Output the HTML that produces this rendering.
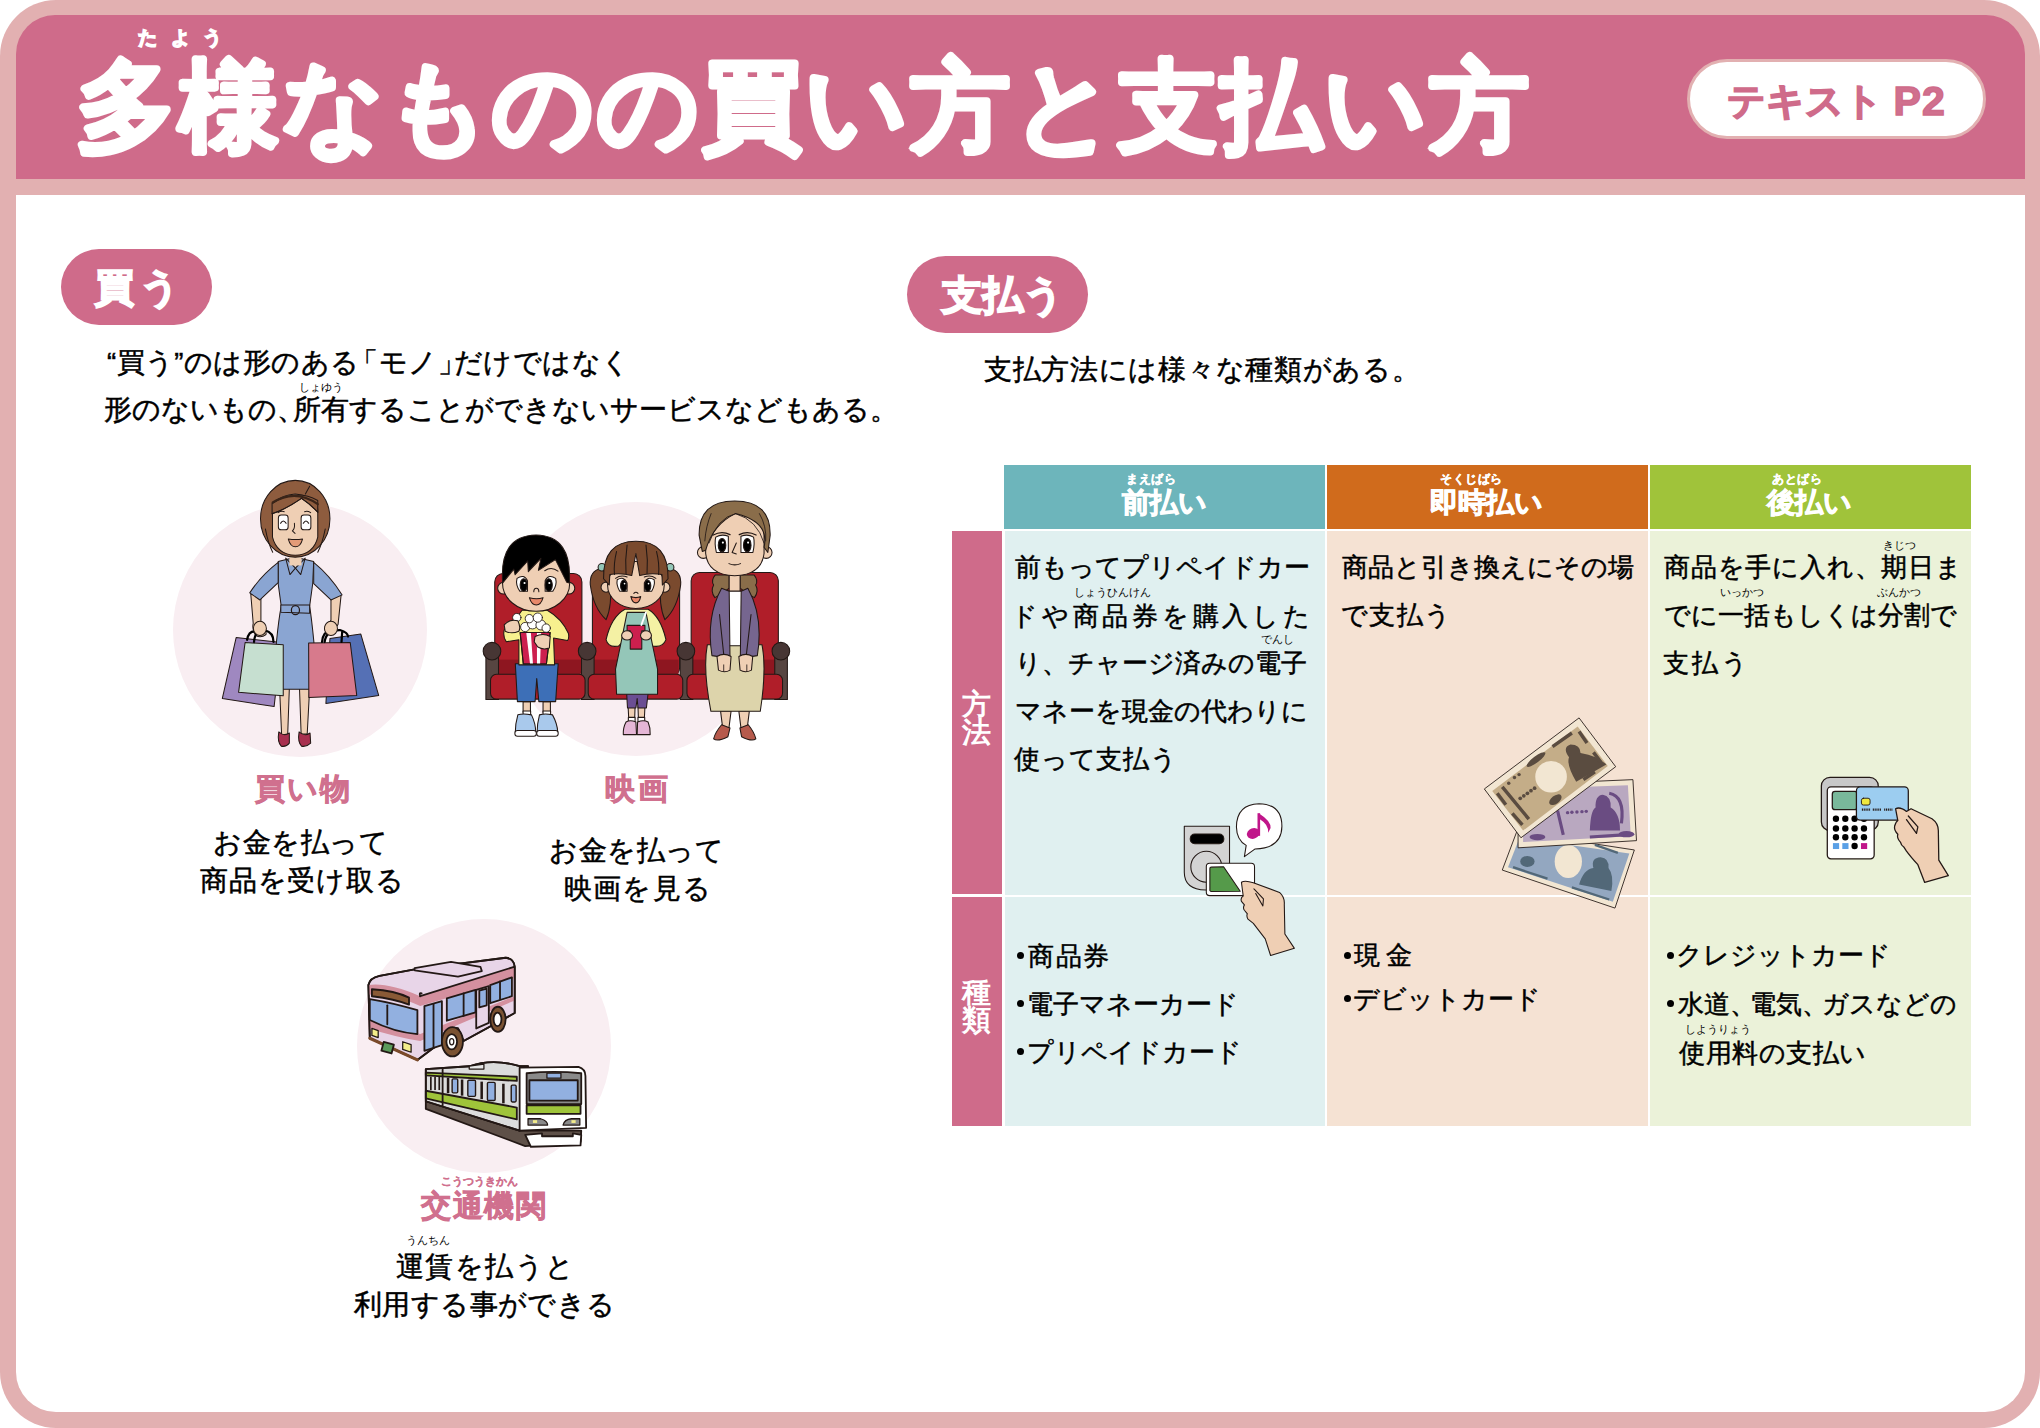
<!DOCTYPE html>
<html lang="ja">
<head>
<meta charset="utf-8">
<style>
html,body{margin:0;padding:0;}
body{width:2040px;height:1428px;position:relative;overflow:hidden;background:#fff;font-family:"Liberation Sans",sans-serif;color:#1a1a1a;}
.a{position:absolute;white-space:nowrap;line-height:1;}
.j{position:absolute;white-space:nowrap;line-height:1;text-align:justify;text-align-last:justify;}
#frame{position:absolute;left:0;top:0;width:2040px;height:1428px;background:#e2b0b1;border-radius:56px;}
#head{position:absolute;left:16px;top:15px;width:2009px;height:164px;background:#cf6b8a;border-radius:39px 39px 0 0;}
#content{position:absolute;left:16px;top:195px;width:2009px;height:1217px;background:#fff;border-radius:0 0 40px 40px;}
.title{color:#fff;font-weight:bold;-webkit-text-stroke:5px #fff;}
.pill{position:absolute;background:#cf6b8a;border-radius:40px;}
.w{color:#fff;font-weight:bold;}
.pk{color:#d0708e;font-weight:bold;-webkit-text-stroke:0.8px #d0708e;}
.cell{position:absolute;}
.ruby{font-size:11px;color:#000;}
.t{font-size:26px;color:#000;-webkit-text-stroke:0.5px #000;}
.tx{font-size:27.5px;color:#000;-webkit-text-stroke:0.5px #000;}
.tx2{font-size:28px;color:#000;-webkit-text-stroke:0.5px #000;}
.pl{margin-left:-12px;}
.pr{margin-right:-12px;}
.bu{position:absolute;width:7px;height:7px;border-radius:50%;background:#000;}
.circ{position:absolute;border-radius:50%;background:#f9eef2;}
</style>
</head>
<body>
<div id="frame"></div>
<div id="head"></div>
<div id="content"></div>

<!-- title -->
<svg style="position:absolute;left:0;top:0;" width="1600" height="190"><text x="76" y="141" font-size="100" font-weight="bold" letter-spacing="3" fill="#fff" stroke="#fff" stroke-width="5" stroke-linejoin="round" font-family="Liberation Sans, sans-serif">多様なものの買い方と支払い方</text></svg>
<div class="a w" style="left:138px;top:28px;font-size:19px;letter-spacing:13.5px;-webkit-text-stroke:1.5px #fff;">たよう</div>

<!-- text pill -->
<div style="position:absolute;left:1687px;top:59px;width:293px;height:74px;background:#fff;border:3px solid #e2b0b1;border-radius:40px;"></div>
<div class="a pk" style="left:1727px;top:81px;font-size:38px;-webkit-text-stroke:1.5px #cf6b8a;">テキスト <span style="font-size:41px;letter-spacing:1px;vertical-align:-1px;">P2</span></div>

<!-- buy section -->
<div class="pill" style="left:61px;top:249px;width:151px;height:76px;"></div>
<div class="a w" style="left:95px;top:268px;font-size:39px;letter-spacing:6px;-webkit-text-stroke:2px #fff;">買う</div>
<div class="a tx" style="left:107px;top:349px;letter-spacing:0.4px;">“買う”のは形のある<span class="pl" style="margin-left:-9px">「</span>モノ<span class="pr">」</span>だけではなく</div>
<div class="a tx" style="left:104px;top:396px;">形のないもの<span class="pr">、</span>所有することができないサービスなどもある。</div>
<div class="a ruby" style="left:299px;top:382px;">しょゆう</div>

<div class="circ" style="left:173px;top:503px;width:254px;height:254px;"></div>
<div class="circ" style="left:509px;top:502px;width:254px;height:254px;"></div>
<div class="circ" style="left:357px;top:919px;width:254px;height:254px;"></div>

<svg style="position:absolute;left:200px;top:470px;" width="200" height="290" viewBox="0 0 985 1428">
<g stroke="#231815" stroke-width="5" stroke-linejoin="round" stroke-linecap="round">
<!-- legs -->
<path d="M392,1075 L440,1075 L432,1300 L402,1305 Z" fill="#efcfb4"/>
<path d="M490,1075 L540,1075 L528,1300 L498,1300 Z" fill="#efcfb4"/>
<path d="M388,1290 Q380,1340 400,1360 Q425,1365 440,1345 L440,1295 Q415,1315 388,1290 Z" fill="#a8304f"/>
<path d="M488,1290 Q480,1340 500,1360 Q525,1365 545,1345 L542,1295 Q515,1315 488,1290 Z" fill="#a8304f"/>
<!-- bags back -->
<path d="M178,825 L400,850 L365,1165 L110,1125 Z" fill="#9f88c0"/>
<path d="M640,830 L792,808 L880,1110 L620,1150 Z" fill="#5570b5"/>
<!-- arms skin -->
<path d="M250,610 L300,630 L300,760 Q330,790 325,810 Q300,830 275,815 Q255,790 262,755 Z" fill="#efcfb4"/>
<path d="M645,615 L695,615 L680,760 Q660,800 640,810 Q610,800 615,770 Q640,750 645,740 Z" fill="#efcfb4"/>
<!-- dress -->
<path d="M385,450 L470,430 L560,450 L555,560 L540,670 Q560,800 580,1080 L360,1080 Q375,800 400,670 L385,560 Z" fill="#8aa5d2"/>
<path d="M385,455 Q300,520 245,605 L295,640 L385,555 Z" fill="#8aa5d2"/>
<path d="M560,455 Q640,520 700,615 L645,640 L560,560 Z" fill="#8aa5d2"/>
<path d="M398,665 L540,665 L540,705 L398,700 Z" fill="#8aa5d2"/>
<ellipse cx="470" cy="690" rx="20" ry="22" fill="none" stroke-width="6"/>
<path d="M440,430 L500,430 L470,480 Z" fill="#efcfb4" stroke="none"/><path d="M422,434 L443,515 L470,483 Z" fill="#8aa5d2"/><path d="M518,434 L496,515 L470,483 Z" fill="#8aa5d2"/>
<!-- bags front -->
<path d="M222,850 L410,860 L410,1112 L190,1095 Z" fill="#c6dfd0"/>
<path d="M535,852 L740,850 L772,1110 L536,1120 Z" fill="#d77a8c"/>
<path d="M232,836 Q240,790 275,795 M266,847 Q270,785 320,790 Q362,800 362,847" fill="none" stroke-width="11" stroke="#000"/>
<path d="M601,847 Q605,795 640,793 M614,847 Q620,787 689,788 Q729,800 729,820 M697,847 L700,800" fill="none" stroke-width="11" stroke="#000"/>
<!-- hands -->
<ellipse cx="295" cy="780" rx="32" ry="35" fill="#efcfb4"/>
<ellipse cx="645" cy="780" rx="32" ry="35" fill="#efcfb4"/>
<!-- neck -->
<path d="M440,400 L500,400 L500,470 L440,470 Z" fill="#efcfb4" stroke="none"/>
<!-- hair back -->
<ellipse cx="469" cy="240" rx="171" ry="189" fill="#8e5c3e"/>
<path d="M357,200 Q357,130 469,118 Q580,130 580,200 L580,330 Q560,415 469,420 Q378,415 357,330 Z" fill="#efcfb4"/>
<path d="M355,215 Q420,195 500,140 Q545,170 580,208 L580,150 Q470,90 355,165 Z" fill="#8e5c3e"/>
<path d="M500,140 Q545,170 580,208" fill="none"/>
<path d="M355,215 Q420,195 500,140" fill="none"/>
<path d="M358,160 Q469,90 580,168" fill="none" stroke="#3a2418" stroke-width="11"/>
<path d="M540,80 L519,118" fill="none"/>
<path d="M322,290 Q335,360 358,405 M617,290 Q603,360 580,405" fill="none"/>
<rect x="386" y="222" width="48" height="72" rx="14" fill="#fff"/>
<rect x="498" y="222" width="48" height="72" rx="14" fill="#fff"/>
<path d="M397,262 Q410,240 424,262 M509,262 Q522,240 535,262" fill="none" stroke-width="6"/>
<path d="M385,210 Q400,200 415,205 M515,205 Q530,200 545,210" fill="none"/>
<path d="M435,340 Q470,345 505,340 Q495,378 470,378 Q445,378 435,340 Z" fill="#e39b78"/>
<path d="M465,262 Q468,290 455,300 L468,312" fill="none"/>
</g>
</svg>

<div class="a pk" style="left:255px;top:774px;font-size:30px;letter-spacing:2px;">買い物</div>
<div class="a tx2" style="left:213px;top:829px;font-size:28px;letter-spacing:0.6px;">お金を払って</div>
<div class="a tx2" style="left:200px;top:867px;font-size:28px;letter-spacing:0.8px;">商品を受け取る</div>

<svg style="position:absolute;left:480px;top:480px;" width="320" height="300" viewBox="0 0 1523 1428">
<g stroke="#231815" stroke-width="5" stroke-linejoin="round" stroke-linecap="round">
<!-- seat backs -->
<rect x="70" y="445" width="415" height="490" rx="40" fill="#b01e29"/>
<rect x="535" y="445" width="415" height="490" rx="40" fill="#b01e29"/>
<rect x="1005" y="440" width="415" height="495" rx="40" fill="#b01e29"/>
<rect x="75" y="855" width="405" height="75" fill="#8e1620" stroke="none"/>
<rect x="540" y="855" width="405" height="75" fill="#8e1620" stroke="none"/>
<rect x="1010" y="855" width="405" height="75" fill="#8e1620" stroke="none"/>
<!-- armrest posts -->
<rect x="28" y="800" width="60" height="245" fill="#574541"/>
<rect x="483" y="800" width="60" height="245" fill="#574541"/>
<rect x="953" y="800" width="60" height="245" fill="#574541"/>
<rect x="1403" y="800" width="60" height="245" fill="#574541"/>
<!-- cushions -->
<rect x="50" y="925" width="450" height="118" rx="28" fill="#b01e29"/>
<rect x="515" y="925" width="450" height="118" rx="28" fill="#b01e29"/>
<rect x="985" y="925" width="455" height="118" rx="28" fill="#b01e29"/>
<circle cx="57" cy="815" r="42" fill="#473634"/>
<circle cx="510" cy="815" r="42" fill="#473634"/>
<circle cx="980" cy="815" r="42" fill="#473634"/>
<circle cx="1432" cy="815" r="42" fill="#473634"/>

<!-- BOY -->
<path d="M205,1055 L240,1055 L240,1105 L205,1105 Z" fill="#efcfb4"/><rect x="205" y="1100" width="36" height="18" fill="#fff"/>
<path d="M300,1055 L335,1055 L335,1105 L300,1105 Z" fill="#efcfb4"/><rect x="300" y="1100" width="36" height="18" fill="#fff"/>
<path d="M180,1118 Q205,1110 245,1118 Q265,1160 265,1200 L168,1200 Q168,1160 180,1118 Z" fill="#a9c9ec"/><rect x="166" y="1192" width="102" height="28" rx="12" fill="#fff"/>
<path d="M283,1118 Q310,1110 345,1118 Q368,1160 370,1200 L272,1200 Q272,1160 283,1118 Z" fill="#a9c9ec"/><rect x="270" y="1192" width="102" height="28" rx="12" fill="#fff"/>
<path d="M168,875 L372,875 L360,1055 L280,1055 L270,945 L262,1055 L178,1055 Z" fill="#3d6fb7"/>
<path d="M200,620 L320,620 Q390,660 421,731 Q425,755 416,764 L350,752 L355,880 L185,880 L185,760 L125,770 Q105,740 118,705 L150,690 Z" fill="#f7f08e"/>
<path d="M191,726 L334,726 L316,876 L206,876 Z" fill="#cc1f4e"/>
<path d="M220,726 L242,726 L252,876 L238,876 Z M271,726 L291,726 L286,876 L271,876 Z" fill="#fff" stroke="none"/>
<path d="M191,726 L334,726 L316,876 L206,876 Z" fill="none"/>
<g fill="#fff" stroke-width="4">
<circle cx="215" cy="700" r="22"/><circle cx="250" cy="685" r="24"/><circle cx="290" cy="690" r="24"/><circle cx="315" cy="705" r="20"/><circle cx="235" cy="660" r="20"/><circle cx="275" cy="655" r="22"/><circle cx="175" cy="655" r="20"/>
</g>
<path d="M115,690 Q140,660 180,670 Q195,700 185,720 Q150,735 120,720 Z" fill="#efcfb4"/>
<path d="M262,745 Q300,725 334,745 L330,800 Q300,810 275,795 L258,770 Z" fill="#efcfb4"/>
<circle cx="112" cy="515" r="28" fill="#efcfb4"/>
<circle cx="423" cy="515" r="28" fill="#efcfb4"/>
<ellipse cx="267" cy="490" rx="160" ry="135" fill="#efcfb4"/>
<path d="M108,490 Q90,265 267,262 Q440,265 425,490 L413,487 L359,379 L278,430 L290,373 L230,436 L227,385 L167,451 L161,424 Z" fill="#000"/>
<path d="M176,468 Q210,445 226,480 L226,530 L190,530 Q168,500 176,468 Z" fill="#fff"/><ellipse cx="208" cy="500" rx="17" ry="30" fill="#000"/><circle cx="212" cy="490" r="5" fill="#fff" stroke="none"/>
<path d="M360,468 Q326,445 310,480 L310,530 L346,530 Q368,500 360,468 Z" fill="#fff"/><ellipse cx="327" cy="500" rx="17" ry="30" fill="#000"/><circle cx="330" cy="490" r="5" fill="#fff" stroke="none"/><path d="M308,432 Q340,410 371,434" fill="none"/><path d="M256,532 Q256,515 268,515 Q280,515 280,532" fill="none"/>
<path d="M235,560 Q270,570 300,560 Q290,595 268,595 Q245,595 235,560 Z" fill="#e8896a"/>

<!-- GIRL -->
<path d="M705,1080 L738,1080 L736,1140 L708,1140 Z" fill="#efcfb4"/><path d="M752,1080 L785,1080 L782,1140 L754,1140 Z" fill="#efcfb4"/>
<path d="M698,1015 L800,1015 L792,1085 L752,1085 L748,1040 L742,1085 L702,1085 Z" fill="#6b4e93"/>
<rect x="706" y="1130" width="32" height="22" fill="#fff"/><rect x="752" y="1130" width="32" height="22" fill="#fff"/>
<path d="M695,1152 Q715,1140 742,1152 L745,1212 L682,1212 Q680,1180 695,1152 Z" fill="#e5b6d6"/>
<path d="M750,1152 Q778,1140 800,1152 Q812,1180 810,1212 L748,1212 Z" fill="#e5b6d6"/>
<path d="M525,500 Q520,430 580,420 L620,480 Q630,600 600,665 Q540,610 525,500 Z" fill="#7a4a2e"/>
<path d="M955,500 Q960,430 900,420 L860,480 Q850,600 880,665 Q940,610 955,500 Z" fill="#7a4a2e"/>
<circle cx="580" cy="415" r="18" fill="#94c6b8"/>
<circle cx="905" cy="415" r="18" fill="#94c6b8"/>
<path d="M690,615 L800,615 Q860,650 885,760 Q870,800 820,790 L800,760 L690,760 L660,790 Q610,800 600,760 Q625,650 690,615 Z" fill="#f4f1a4"/>
<path d="M700,630 L790,630 L820,780 L845,900 L845,1020 L650,1020 L645,900 L670,780 Z" fill="#94c6b8"/>
<path d="M700,692 L785,692 L785,718 L770,718 L770,805 L715,805 L715,718 L700,718 Z" fill="#cc1f4e"/>
<path d="M768,690 L790,630" stroke="#fff" stroke-width="9"/>
<ellipse cx="700" cy="740" rx="26" ry="22" fill="#efcfb4"/>
<ellipse cx="790" cy="740" rx="26" ry="22" fill="#efcfb4"/>
<circle cx="600" cy="510" r="24" fill="#efcfb4"/>
<circle cx="880" cy="510" r="24" fill="#efcfb4"/>
<ellipse cx="742" cy="500" rx="135" ry="112" fill="#efcfb4"/>
<path d="M588,470 Q585,292 742,292 Q898,292 895,470 L868,500 L866,450 Q810,440 760,455 L742,350 L722,455 Q670,440 618,450 L615,500 Z" fill="#7a4a2e"/>
<path d="M650,340 Q635,400 640,450 M700,310 Q690,380 695,445 M790,310 Q800,380 795,445 M840,340 Q855,400 850,450" fill="none"/>
<path d="M653,475 Q685,455 700,490 L700,530 L665,530 Q648,500 653,475 Z" fill="#fff"/><ellipse cx="684" cy="503" rx="15" ry="27" fill="#000"/><circle cx="688" cy="493" r="4" fill="#fff" stroke="none"/><path d="M645,468 Q670,450 700,462" fill="none"/>
<path d="M829,475 Q797,455 782,490 L782,530 L817,530 Q834,500 829,475 Z" fill="#fff"/><ellipse cx="798" cy="503" rx="15" ry="27" fill="#000"/><circle cx="802" cy="493" r="4" fill="#fff" stroke="none"/><path d="M837,468 Q812,450 782,462" fill="none"/><path d="M732,540 Q742,528 752,540" fill="none"/>
<path d="M718,555 Q742,565 765,555 Q758,585 742,585 Q725,585 718,555 Z" fill="#e8896a"/>

<!-- MOM -->
<path d="M1145,1100 L1195,1100 L1185,1180 L1155,1180 Z" fill="#efcfb4"/>
<path d="M1232,1100 L1282,1100 L1272,1180 L1242,1180 Z" fill="#efcfb4"/>
<path d="M1150,1165 Q1120,1200 1112,1232 Q1130,1248 1180,1222 L1190,1180 Z" fill="#b65a4c"/>
<path d="M1237,1180 L1245,1222 Q1295,1248 1313,1232 Q1305,1200 1277,1165 Z" fill="#b65a4c"/>
<path d="M1082,784 L1342,784 Q1365,900 1334,1101 L1099,1101 Q1060,900 1082,784 Z" fill="#ddd4ab"/>
<path d="M1120,452 Q1098,478 1112,500 Q1095,530 1118,560 Q1150,545 1186,515 L1186,452 Z" fill="#8a6d4a"/>
<path d="M1304,452 Q1326,478 1312,500 Q1329,530 1306,560 Q1274,545 1238,515 L1238,452 Z" fill="#8a6d4a"/>
<rect x="1186" y="430" width="52" height="105" fill="#efcfb4"/>
<rect x="1182" y="529" width="67" height="260" fill="#fff"/>
<path d="M1150,515 L1186,530 L1190,848 L1104,836 Q1075,650 1150,515 Z" fill="#76668f"/>
<path d="M1275,515 L1243,530 L1239,848 L1320,836 Q1350,650 1275,515 Z" fill="#76668f"/>
<path d="M1140,640 L1160,830 M1290,640 L1268,830" fill="none"/>
<path d="M1128,840 Q1160,820 1195,840 L1190,905 Q1165,920 1135,905 Z" fill="#efcfb4"/>
<path d="M1232,840 Q1265,820 1298,840 L1292,905 Q1262,920 1238,905 Z" fill="#efcfb4"/>
<path d="M1160,880 L1160,910 M1270,880 L1270,910" fill="none" stroke-width="4"/>
<circle cx="1063" cy="345" r="28" fill="#efcfb4"/>
<circle cx="1362" cy="345" r="28" fill="#efcfb4"/>
<path d="M1074,250 Q1074,150 1212,150 Q1352,150 1352,250 L1352,350 Q1340,452 1212,456 Q1085,452 1074,350 Z" fill="#efcfb4"/>
<path d="M1043,264 Q1040,100 1212,100 Q1385,100 1381,264 L1370,345 L1352,320 Q1380,200 1216,160 Q1110,210 1074,334 L1058,340 Z" fill="#8a6d4a"/>
<path d="M1216,160 Q1130,180 1090,300 M1216,160 Q1320,190 1352,300 M1100,160 Q1075,220 1070,290 M1330,160 Q1365,220 1360,290" fill="none" stroke-width="4"/>
<path d="M1122,272 Q1150,255 1182,268 L1182,345 L1125,345 Q1115,300 1122,272 Z" fill="#fff"/><ellipse cx="1152" cy="310" rx="18" ry="32" fill="#000"/><circle cx="1156" cy="298" r="5" fill="#fff" stroke="none"/>
<path d="M1302,272 Q1274,255 1242,268 L1242,345 L1299,345 Q1309,300 1302,272 Z" fill="#fff"/><ellipse cx="1272" cy="310" rx="18" ry="32" fill="#000"/><circle cx="1276" cy="298" r="5" fill="#fff" stroke="none"/>
<path d="M1110,262 Q1150,240 1190,260 M1234,260 Q1274,240 1314,262" fill="none" stroke-width="6"/>
<path d="M1185,398 Q1212,410 1240,398" fill="none"/>
<path d="M1220,300 L1200,345 L1220,352" fill="none"/>
</g>
</svg>

<div class="a pk" style="left:605px;top:774px;font-size:30px;letter-spacing:3px;">映画</div>
<div class="a tx2" style="left:549px;top:837px;font-size:28px;letter-spacing:0.5px;">お金を払って</div>
<div class="a tx2" style="left:564px;top:875px;font-size:28px;letter-spacing:1.2px;">映画を見る</div>

<svg style="position:absolute;left:360px;top:950px;" width="240" height="200" viewBox="0 0 1714 1428">
<g stroke="#231815" stroke-width="13" stroke-linejoin="round" stroke-linecap="round">
<!-- BUS -->
<path d="M60,250 Q70,200 140,185 L380,140 L1040,55 Q1100,60 1105,120 L1105,450 L740,650 L700,560 Q620,540 590,650 L410,785 L70,630 Z" fill="#e8d5e8"/>
<path d="M60,250 Q200,230 430,330 L1105,120 L1105,200 L430,400 Q200,300 60,320 Z" fill="#d4909f" stroke="none"/>
<path d="M62,500 Q250,560 430,600 L1105,330 L1105,360 L430,650 Q250,620 62,560 Z" fill="#d4909f" stroke="none"/>
<path d="M60,250 Q70,200 140,185 L380,140 L1040,55 Q1100,60 1105,120 L1105,450 L740,650 L700,560 Q620,540 590,650 L410,785 L70,630 Z" fill="none"/>
<path d="M430,330 L1100,120" fill="none"/>
<path d="M430,330 Q420,300 440,310" fill="none"/>
<path d="M390,130 L650,85 L860,120 L870,150 L700,190 L390,145 Z" fill="#e8d5e8"/>
<path d="M85,280 Q250,290 350,340 L350,390 Q250,350 85,330 Z" fill="#8a5a36"/>
<path d="M70,350 Q250,380 410,430 L410,600 Q250,590 70,500 Z" fill="#92b0e0"/>
<path d="M195,395 L195,530" fill="none"/>
<path d="M460,400 L585,365 L585,680 L460,720 Z" fill="#92b0e0"/>
<path d="M525,385 L525,700" fill="none"/>
<path d="M620,345 L825,285 L825,445 L620,505 Z" fill="#92b0e0"/>
<path d="M740,310 L740,470" fill="none"/>
<path d="M930,250 L1085,195 L1085,330 L930,380 Z" fill="#92b0e0"/>
<path d="M1000,225 L1000,350" fill="none"/>
<path d="M830,285 L920,258 L920,520 L830,560 Z" fill="#e8d5e8"/>
<path d="M852,290 L905,275 L905,395 L852,410 Z" fill="#92b0e0"/>
<path d="M70,630 L410,785" stroke="#7a4a2a" stroke-width="22"/>
<rect x="160" y="665" width="75" height="65" fill="#5a9a5a" transform="rotate(15 197 697)"/>
<path d="M85,560 L130,575 L130,625 L85,610 Z" fill="#f3ec8a" stroke-width="9"/>
<path d="M305,655 L365,675 L365,730 L305,710 Z" fill="#f3ec8a" stroke-width="9"/>
<ellipse cx="660" cy="655" rx="75" ry="105" fill="#7a5232"/>
<ellipse cx="655" cy="655" rx="38" ry="55" fill="#fff"/>
<ellipse cx="655" cy="655" rx="15" ry="22" fill="none" stroke-width="9"/>
<ellipse cx="985" cy="495" rx="55" ry="90" fill="#7a5232"/>
<ellipse cx="982" cy="495" rx="28" ry="48" fill="#fff"/>
<!-- TRAIN -->
<path d="M470,1080 L1140,1290 L1580,1290 L1575,1370 L1180,1400 L470,1135 Z" fill="#5e5048"/>
<path d="M470,850 L780,830 Q950,770 1140,830 L1200,830 L1140,1290 L470,1080 Z" fill="#dcdcdc"/>
<path d="M470,875 L1120,905 L1120,935 L470,895 Z" fill="#9fc43a"/>
<path d="M470,1005 L1120,1125 L1120,1210 L470,1060 Z" fill="#9fc43a"/>
<path d="M470,850 L780,830 Q950,770 1140,830 L1200,830 L1140,1290 L470,1080 Z" fill="none"/>
<path d="M590,845 L590,1110" fill="none"/>
<g fill="#92b0e0" stroke-width="10">
<rect x="658" y="920" width="40" height="100" rx="8"/>
<rect x="770" y="930" width="55" height="115" rx="8"/>
<rect x="910" y="945" width="55" height="130" rx="8"/>
<rect x="1080" y="965" width="35" height="120" rx="8"/>
</g>
<g fill="#231815" stroke="none">
<rect x="620" y="912" width="18" height="110"/><rect x="720" y="925" width="18" height="115"/><rect x="860" y="940" width="18" height="125"/><rect x="1015" y="955" width="18" height="140"/>
<rect x="500" y="905" width="12" height="95"/><rect x="530" y="905" width="12" height="95"/><rect x="560" y="905" width="12" height="95"/>
</g>
<path d="M780,830 L885,815 L885,850 L780,850 Z" fill="#e8e8e8" stroke-width="9"/>
<path d="M1140,840 L1560,835 Q1610,850 1610,900 L1615,1270 L1140,1290 Z" fill="#fff"/>
<path d="M1190,880 Q1385,860 1580,880 L1580,1100 L1190,1100 Z" fill="#8a8a8a"/>
<rect x="1210" y="930" width="345" height="145" fill="#92b0e0"/>
<rect x="1335" y="880" width="100" height="35" fill="#92b0e0" stroke-width="9"/>
<path d="M1190,1110 L1575,1110 L1575,1170 L1190,1170 Z" fill="#9fc43a"/>
<path d="M1200,1205 L1290,1205 Q1340,1220 1340,1250 L1200,1250 Z" fill="#8a8a8a" stroke-width="9"/>
<path d="M1450,1250 Q1460,1210 1510,1205 L1570,1205 L1570,1250 Z" fill="#8a8a8a" stroke-width="9"/>
<rect x="1235" y="1215" width="30" height="20" fill="#f3ec8a" stroke="none"/>
<rect x="1510" y="1215" width="30" height="20" fill="#f3ec8a" stroke="none"/>
<path d="M1180,1320 L1300,1310 L1300,1330 L1520,1330 L1520,1310 L1580,1320 L1575,1395 L1220,1405 Z" fill="#fff"/>
</g>
</svg>

<div class="a pk" style="left:421px;top:1191px;font-size:30px;letter-spacing:1.6px;">交通機関</div>
<div class="a pk" style="left:441px;top:1176px;font-size:11px;-webkit-text-stroke:0.2px #d0708e;">こうつうきかん</div>
<div class="a tx2" style="left:396px;top:1253px;font-size:28px;letter-spacing:1.4px;">運賃を払うと</div>
<div class="a ruby" style="left:406px;top:1235px;">うんちん</div>
<div class="a tx2" style="left:354px;top:1291px;font-size:28px;letter-spacing:0.4px;">利用する事ができる</div>

<!-- pay section -->
<div class="pill" style="left:907px;top:256px;width:181px;height:77px;"></div>
<div class="a w" style="left:942px;top:275px;font-size:40px;letter-spacing:0.5px;-webkit-text-stroke:2px #fff;">支払う</div>
<div class="a tx" style="left:984px;top:356px;letter-spacing:0.7px;">支払方法には様々な種類がある。</div>

<!-- table -->
<div class="cell" style="left:1004px;top:465px;width:321px;height:64px;background:#6db5bb;"></div>
<div class="cell" style="left:1327px;top:465px;width:321px;height:64px;background:#d06b1c;"></div>
<div class="cell" style="left:1650px;top:465px;width:321px;height:64px;background:#a0c33a;"></div>

<div class="cell" style="left:952px;top:531px;width:50px;height:363px;background:#cf6b8a;"></div>
<div class="cell" style="left:952px;top:897px;width:50px;height:229px;background:#cf6b8a;"></div>

<div class="cell" style="left:1005px;top:531px;width:320px;height:364px;background:#e0f0f0;"></div>
<div class="cell" style="left:1327px;top:531px;width:321px;height:364px;background:#f5e2d3;"></div>
<div class="cell" style="left:1650px;top:531px;width:321px;height:364px;background:#ebf2d9;"></div>
<div class="cell" style="left:1005px;top:897px;width:320px;height:229px;background:#e0f0f0;"></div>
<div class="cell" style="left:1327px;top:897px;width:321px;height:229px;background:#f5e2d3;"></div>
<div class="cell" style="left:1650px;top:897px;width:321px;height:229px;background:#ebf2d9;"></div>


<!-- table header text -->
<div class="a w" style="left:1122px;top:489px;font-size:28px;-webkit-text-stroke:1px #fff;">前払い</div>
<div class="a w" style="left:1126px;top:473px;font-size:12px;letter-spacing:0.5px;-webkit-text-stroke:0.3px #fff;">まえばら</div>
<div class="a w" style="left:1430px;top:489px;font-size:28px;-webkit-text-stroke:1px #fff;">即時払い</div>
<div class="a w" style="left:1440px;top:473px;font-size:12px;letter-spacing:0.5px;-webkit-text-stroke:0.3px #fff;">そくじばら</div>
<div class="a w" style="left:1767px;top:489px;font-size:28px;-webkit-text-stroke:1px #fff;">後払い</div>
<div class="a w" style="left:1772px;top:473px;font-size:12px;letter-spacing:0.5px;-webkit-text-stroke:0.3px #fff;">あとばら</div>

<div class="a w" style="left:962px;top:690px;font-size:29px;line-height:28px;white-space:normal;width:32px;">方<br>法</div>
<div class="a w" style="left:962px;top:978px;font-size:29px;line-height:28px;white-space:normal;width:32px;">種<br>類</div>

<!-- row1 -->
<div class="j t" style="left:1015px;top:554px;width:288px;">前もってプリペイドカー</div>
<div class="j t" style="left:1011px;top:603px;width:299px;">ドや商品券を購入した</div>
<div class="j t" style="left:1015px;top:650px;width:291px;">り、チャージ済みの電子</div>
<div class="j t" style="left:1015px;top:698px;width:291px;">マネーを現金の代わりに</div>
<div class="a t" style="left:1014px;top:746px;letter-spacing:0.8px;">使って支払う</div>
<div class="a ruby" style="left:1074px;top:587px;">しょうひんけん</div>
<div class="a ruby" style="left:1261px;top:634px;">でんし</div>

<div class="j t" style="left:1342px;top:554px;width:291px;">商品と引き換えにその場</div>
<div class="a t" style="left:1341px;top:602px;letter-spacing:1.3px;">で支払う</div>

<div class="j t" style="left:1664px;top:554px;width:298px;">商品を手に入れ、期日ま</div>
<div class="j t" style="left:1664px;top:602px;width:291px;">でに一括もしくは分割で</div>
<div class="a t" style="left:1663px;top:650px;letter-spacing:3px;">支払う</div>
<div class="a ruby" style="left:1883px;top:540px;">きじつ</div>
<div class="a ruby" style="left:1720px;top:587px;">いっかつ</div>
<div class="a ruby" style="left:1877px;top:587px;">ぶんかつ</div>

<svg style="position:absolute;left:1170px;top:790px;" width="140" height="170" viewBox="0 0 1176 1428">
<g stroke="#231815" stroke-width="9" stroke-linejoin="round" stroke-linecap="round">
<path d="M120,305 L500,305 L500,840 L300,840 Q120,835 120,690 Z" fill="#d3d3d3"/>
<rect x="170" y="370" width="282" height="82" rx="38" fill="#000"/>
<circle cx="305" cy="645" r="130" fill="#d3d3d3"/>
<rect x="305" y="615" width="405" height="272" rx="28" fill="#fff"/>
<path d="M345,648 L450,645 L590,850 L345,852 Q332,850 335,835 L335,660 Q335,648 345,648 Z" fill="#559a4a"/>
<path d="M640,465 Q560,420 558,310 Q560,120 748,115 Q940,120 940,305 Q938,490 715,495 L625,560 Z" fill="#fff"/>
<g fill="#c0168a" stroke="none">
<ellipse cx="700" cy="365" rx="55" ry="44" transform="rotate(-20 700 365)"/>
<rect x="735" y="195" width="22" height="190"/>
<path d="M745,195 Q850,260 845,320 L825,360 Q830,290 755,245 Z"/>
</g>
<path d="M600,775 Q630,755 700,780 L920,860 Q965,900 960,960 L965,1210 L1045,1330 L845,1390 L800,1250 L700,1120 L655,1085 Q640,1060 650,1040 L625,1010 Q610,990 625,965 L600,935 Q590,905 615,890 Z" fill="#efcfb4"/>
<path d="M705,830 L785,915 L780,975 L720,870" fill="none"/>
</g>
</svg>
<svg style="position:absolute;left:1480px;top:710px;" width="165" height="205" viewBox="0 0 1149 1428">
<g stroke="#231815" stroke-width="6" stroke-linejoin="round">
<!-- blue -->
<path d="M255,850 L1075,975 L940,1380 L155,1115 Z" fill="#f2e6d2"/>
<path d="M275,890 L1040,1000 L925,1335 L195,1095 Z" fill="#93a7c0" stroke="none"/>
<ellipse cx="615" cy="1055" rx="95" ry="115" fill="#f2e6d2" stroke="none"/>
<ellipse cx="330" cy="1055" rx="50" ry="38" fill="#526878" stroke="none"/>
<path d="M840,1025 Q900,1030 895,1100 Q935,1150 915,1260 L690,1215 Q720,1110 790,1100 Q770,1030 840,1025 Z" fill="#526878" stroke="none"/>
<path d="M230,1095 L470,1175 M640,1235 L900,1320 M800,940 L960,995" stroke="#526878" stroke-width="16" fill="none"/>
<!-- purple -->
<path d="M265,520 L1065,485 L1090,910 L265,960 Z" fill="#f2e6d2"/>
<path d="M300,550 L1030,525 L1050,880 L300,920 Z" fill="#b9a8c0" stroke="none"/>
<path d="M855,590 Q915,600 910,680 Q975,720 975,840 L765,840 Q770,700 805,680 Q800,595 855,590 Z" fill="#6a4c82" stroke="none"/>
<ellipse cx="400" cy="885" rx="55" ry="22" fill="#6a4c82" stroke="none"/>
<ellipse cx="1020" cy="865" rx="55" ry="22" fill="#6a4c82" stroke="none"/>
<path d="M540,700 L580,870 M765,885 L1000,870 M900,580 Q1010,600 985,790" stroke="#6a4c82" stroke-width="22" fill="none"/>
<g fill="#6a4c82" stroke="none"><circle cx="610" cy="715" r="12"/><circle cx="640" cy="712" r="12"/><circle cx="675" cy="710" r="12"/><circle cx="710" cy="708" r="12"/><circle cx="740" cy="706" r="12"/></g>
<!-- brown -->
<path d="M30,550 L690,55 L945,395 L285,890 Z" fill="#f2e6d2"/>
<path d="M85,565 L680,115 L890,390 L300,840 Z" fill="#c4ad88" stroke="none"/>
<circle cx="495" cy="465" r="110" fill="#f2e6d2" stroke="none"/>
<path d="M630,240 Q700,240 700,300 Q820,320 880,380 L670,500 Q600,380 620,330 Q570,260 630,240 Z" fill="#5a4c40" stroke="none"/>
<ellipse cx="390" cy="345" rx="80" ry="22" transform="rotate(-37 390 345)" fill="#5a4c40" stroke="none"/>
<ellipse cx="525" cy="625" rx="50" ry="28" transform="rotate(-37 525 625)" fill="#5a4c40" stroke="none"/>
<path d="M155,535 L340,760 M120,580 L180,660 M225,720 L295,800 M505,255 L640,160 M690,150 L745,230 M790,295 L840,360 M720,485 L800,430" stroke="#5a4c40" stroke-width="24" fill="none"/>
<g fill="#5a4c40" stroke="none"><circle cx="280" cy="615" r="13"/><circle cx="305" cy="598" r="13"/><circle cx="330" cy="580" r="13"/><circle cx="355" cy="562" r="13"/><circle cx="380" cy="545" r="13"/><circle cx="200" cy="510" r="12"/><circle cx="240" cy="470" r="12"/><circle cx="272" cy="450" r="12"/></g>
</g>
</svg>
<svg style="position:absolute;left:1810px;top:765px;" width="150" height="130" viewBox="0 0 1648 1428">
<g stroke="#231815" stroke-width="14" stroke-linejoin="round" stroke-linecap="round">
<rect x="125" y="135" width="625" height="585" rx="95" fill="#c8c8c8"/>
<rect x="190" y="240" width="515" height="790" rx="40" fill="#fff"/>
<rect x="245" y="290" width="275" height="200" rx="30" fill="#79b89b"/>
<g fill="#000" stroke="none">
<circle cx="285" cy="590" r="35"/><circle cx="388" cy="590" r="35"/><circle cx="490" cy="590" r="35"/><circle cx="593" cy="590" r="35"/>
<circle cx="285" cy="697" r="35"/><circle cx="388" cy="697" r="35"/><circle cx="490" cy="697" r="35"/><circle cx="593" cy="697" r="35"/>
<circle cx="285" cy="793" r="35"/><circle cx="388" cy="793" r="35"/><circle cx="490" cy="793" r="35"/><circle cx="593" cy="793" r="35"/>
<circle cx="490" cy="890" r="35"/>
</g>
<rect x="252" y="858" width="68" height="65" fill="#5aa0e6" stroke="none"/>
<rect x="355" y="858" width="68" height="65" fill="#5aa0e6" stroke="none"/>
<rect x="560" y="858" width="68" height="65" fill="#c0168a" stroke="none"/>
<rect x="510" y="240" width="570" height="365" rx="42" fill="#9ccdf0"/>
<rect x="565" y="365" width="95" height="75" rx="22" fill="#f0e840" stroke-width="10"/>
<path d="M570,490 L660,490 M690,490 L780,490 M815,490 L905,490" stroke-width="26" stroke-dasharray="12 8" fill="none" stroke-linecap="butt"/>
<path d="M940,480 Q990,455 1060,510 L1110,480 L1340,590 Q1410,640 1410,720 L1415,1045 L1520,1215 L1260,1290 L1185,1095 Q1100,1000 1060,945 L1030,900 Q1000,880 995,850 Q950,800 965,760 Q920,720 930,670 Q945,620 965,610 Z" fill="#efcfb4"/>
<path d="M1080,560 L1185,680 L1170,750 L1060,600" fill="none"/>
</g>
</svg>

<!-- row2 -->
<div class="bu" style="left:1017px;top:952px;"></div>
<div class="bu" style="left:1017px;top:1000px;"></div>
<div class="bu" style="left:1017px;top:1048px;"></div>
<div class="a t" style="left:1028px;top:943px;letter-spacing:1.5px;">商品券</div>
<div class="a t" style="left:1027px;top:991px;">電子マネーカード</div>
<div class="a t" style="left:1027px;top:1039px;">プリペイドカード</div>
<div class="bu" style="left:1344px;top:952px;"></div>
<div class="bu" style="left:1344px;top:995px;"></div>
<div class="a t" style="left:1354px;top:942px;letter-spacing:6px;">現金</div>
<div class="a t" style="left:1353px;top:986px;">デビットカード</div>
<div class="bu" style="left:1667px;top:952px;"></div>
<div class="bu" style="left:1667px;top:1000px;"></div>
<div class="a t" style="left:1676px;top:942px;">クレジットカード</div>
<div class="a t" style="left:1678px;top:991px;">水道<span style="margin-right:-6px">、</span>電気<span style="margin-right:-6px">、</span>ガスなどの</div>
<div class="a ruby" style="left:1685px;top:1024px;">しようりょう</div>
<div class="a t" style="left:1679px;top:1040px;letter-spacing:0.5px;">使用料の支払い</div>

</body>
</html>
